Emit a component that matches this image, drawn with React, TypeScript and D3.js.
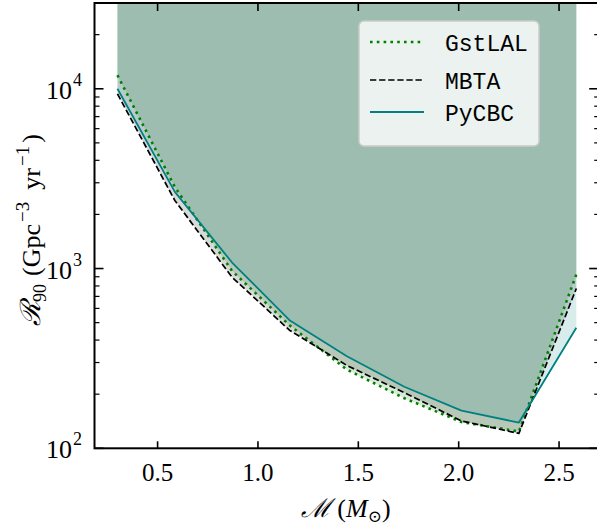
import React from "react";
import * as d3 from "d3";

const chirpMass = [0.3, 0.586, 0.871, 1.157, 1.443, 1.729, 2.014, 2.3, 2.586];
const gstlal = [11900, 2840, 970, 484, 274, 190, 140, 124, 926];
const mbta = [9370, 2390, 895, 454, 289, 204, 142, 121, 774];
const pycbc = [10000, 2670, 1080, 516, 325, 220, 162, 139, 468];
const xTickValues = [0.5, 1.0, 1.5, 2.0, 2.5];
const yMajorTicks = [100, 1000, 10000];
const yExp = ["2", "3", "4"];
const seriesNames = ["GstLAL", "MBTA", "PyCBC"];

const W = 597;
const H = 526;
const left = 94.5, right = 599.2, top = 3, bottom = 448.3;

export default function App() {
  const x = d3.scaleLinear().domain([0.1857, 2.7]).range([left, right]);
  const y = d3.scaleLog().domain([100, 30000]).range([bottom, top]);

  const series = [
    { name: seriesNames[0], values: gstlal, color: "#008000", fill: "#008000", width: 2.6, dash: "2.6 4.2" },
    { name: seriesNames[1], values: mbta, color: "#000000", fill: "#000000", width: 1.7, dash: "6.3 2.8" },
    { name: seriesNames[2], values: pycbc, color: "#008080", fill: "#008080", width: 1.8, dash: "" },
  ];

  const line = (vals: number[]) =>
    d3.line<number>().x((_, i) => x(chirpMass[i])).y((v) => y(v))(vals) || "";
  const area = (vals: number[]) =>
    d3.area<number>().x((_, i) => x(chirpMass[i])).y0(top - 5).y1((v) => y(v))(vals) || "";

  const minorY: number[] = [];
  for (const d of [100, 1000, 10000]) {
    for (let k = 2; k <= 9; k++) {
      const v = d * k;
      if (v < 30000) minorY.push(v);
    }
  }

  const font = "'Liberation Serif', 'DejaVu Serif', serif";
  const mono = "'Liberation Mono', 'DejaVu Sans Mono', monospace";

  const legendRows = [42, 80, 112];

  return (
    <svg width={W} height={H} style={{ display: "block", position: "absolute", left: 0, top: 0 }}>
      <rect x={0} y={0} width={W} height={H} fill="#ffffff" />
      <defs>
        <clipPath id="plotclip">
          <rect x={left} y={top} width={right - left} height={bottom - top} />
        </clipPath>
      </defs>
      <g clipPath="url(#plotclip)">
        {series.map((s) => (
          <path key={"a" + s.name} d={area(s.values)} fill={s.fill} fillOpacity={0.15} stroke="none" />
        ))}
        {series.map((s) => (
          <path
            key={"l" + s.name}
            d={line(s.values)}
            fill="none"
            stroke={s.color}
            strokeWidth={s.width}
            strokeDasharray={s.dash || undefined}
            strokeLinejoin="round"
          />
        ))}
      </g>

      {/* x ticks bottom & top */}
      {xTickValues.map((t) => (
        <g key={"xt" + t}>
          <line x1={x(t)} x2={x(t)} y1={bottom} y2={bottom - 7} stroke="#000" strokeWidth={1.6} />
          <line x1={x(t)} x2={x(t)} y1={top} y2={top + 8} stroke="#000" strokeWidth={1.6} />
          <text x={x(t)} y={481} textAnchor="middle" fontFamily={font} fontSize={25} fill="#000">
            {t.toFixed(1)}
          </text>
        </g>
      ))}

      {/* y ticks */}
      {yMajorTicks.map((t, i) => (
        <g key={"yt" + t}>
          <line x1={left} x2={left + 9} y1={y(t)} y2={y(t)} stroke="#000" strokeWidth={1.6} />
          <line x1={right} x2={right - 10} y1={y(t)} y2={y(t)} stroke="#000" strokeWidth={1.6} />
          <text x={72} y={y(t) + 10} textAnchor="end" fontFamily={font} fontSize={26} fill="#000">
            10
          </text>
          <text x={73} y={y(t) - 3} textAnchor="start" fontFamily={font} fontSize={18} fill="#000">
            {yExp[i]}
          </text>
        </g>
      ))}
      {minorY.map((t) => (
        <g key={"ym" + t}>
          <line x1={left} x2={left + 5} y1={y(t)} y2={y(t)} stroke="#000" strokeWidth={1.2} />
          <line x1={right} x2={right - 5} y1={y(t)} y2={y(t)} stroke="#000" strokeWidth={1.2} />
        </g>
      ))}

      {/* spines */}
      <rect x={left} y={top} width={right - left} height={bottom - top} fill="none" stroke="#000" strokeWidth={2} />

      {/* legend */}
      <rect x={359} y={21} width={180} height={125} rx={5} ry={5} fill="#ffffff" fillOpacity={0.8} stroke="#cccccc" strokeWidth={1.5} />
      {series.map((s, i) => (
        <g key={"lg" + s.name}>
          <line
            x1={370}
            x2={424}
            y1={legendRows[i]}
            y2={legendRows[i]}
            stroke={s.color}
            strokeWidth={s.width}
            strokeDasharray={s.dash || undefined}
          />
          <text x={445} y={legendRows[i] + 9} fontFamily={mono} fontSize={23} fill="#000">
            {s.name}
          </text>
        </g>
      ))}

      {/* x label */}
      <text x={346} y={517} textAnchor="middle" fontFamily={font} fontSize={26} fill="#000">
        <tspan fontStyle="italic">ℳ</tspan>
        <tspan dx={6}>(</tspan>
        <tspan fontStyle="italic">M</tspan>
        <tspan fontSize={17} dy={5}>⊙</tspan>
        <tspan dy={-5}>)</tspan>
      </text>

      {/* y label */}
      <text
        transform={`translate(40, 230) rotate(-90)`}
        textAnchor="middle"
        fontFamily={font}
        fontSize={26}
        fill="#000"
      >
        <tspan fontStyle="italic" fontSize={28}>ℛ</tspan>
        <tspan fontSize={18} dy={6}>90</tspan>
        <tspan dy={-6} dx={8}>(Gpc</tspan>
        <tspan fontSize={19} dy={-11} dx={2}>−3</tspan>
        <tspan dy={11} dx={12}>yr</tspan>
        <tspan fontSize={19} dy={-11} dx={2}>−1</tspan>
        <tspan dy={11} dx={3}>)</tspan>
      </text>
    </svg>
  );
}
